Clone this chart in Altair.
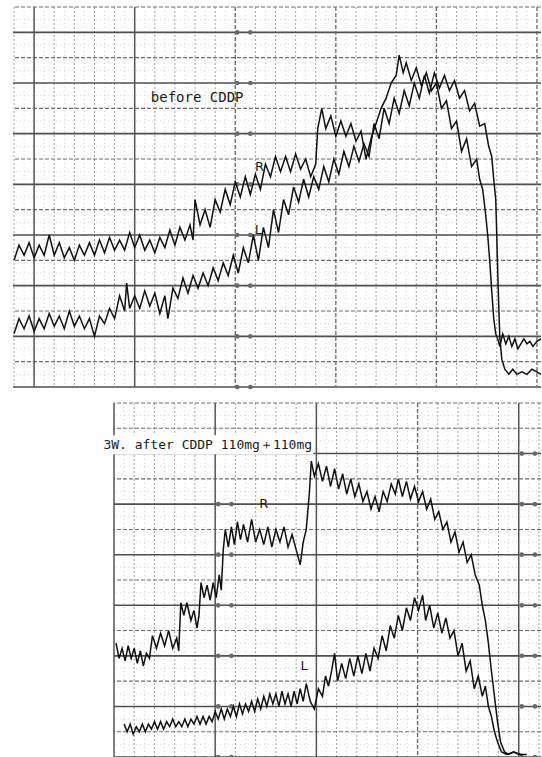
import altair as alt
import pandas as pd

# ---------------- data (x in octaves from first major line, y in dB) ----------------
top_R_oct = [-0.20,-0.15,-0.10,-0.05,0.00,0.05,0.10,0.15,0.20,0.25,0.30,0.35,0.40,0.45,0.50,0.55,0.60,0.65,0.70,0.75,0.80,0.85,0.90,0.95,1.00,1.05,1.10,1.15,1.20,1.25,1.30,1.35,1.40,1.45,1.50,1.55,
             1.58,1.60,
             1.65,1.70,1.75,1.80,1.85,1.90,1.95,2.00,2.05,2.10,2.15,2.20,2.25,2.30,2.35,2.40,2.45,2.50,2.55,2.60,2.65,2.70,2.75,2.80,
             2.82,2.86,
             2.90,2.95,3.00,3.05,3.10,3.15,3.20,3.25,3.30,3.35,3.40,3.45,3.50,3.55,3.60,
             3.63,3.67,
             3.70,3.75,3.80,3.85,3.90,3.95,4.00,4.05,4.10,4.15,4.20,4.25,4.30,4.35,4.40,
             4.43,4.46,4.49,4.51,4.53,4.55,4.57,4.59,4.61,4.63,
             4.66,4.69,4.72,4.75,4.78,4.81,4.84,4.87,4.90,4.93,4.96,5.00,5.04]
top_R_db = [90,84,88,83,89,84,88,80,88,83,89,85,90,84,88,83,88,82,87,81,86,82,86,79,85,80,86,82,87,81,85,78,84,77,82,76,
            82,66,
            76,70,77,66,71,62,68,59,65,57,64,56,62,52,57,49,55,49,55,48,54,50,57,52,
            38,30,
            38,33,41,35,41,36,43,39,50,42,36,30,26,20,17,
            9,16,
            12,19,14,21,16,23,20,30,27,38,35,47,42,53,50,
            58,62,72,80,90,102,113,119,121,124,
            119,123,120,124,121,125,123,121,123,122,124,122,121]

top_L_oct = [-0.20,-0.15,-0.10,-0.05,0.00,0.05,0.10,0.15,0.20,0.25,0.30,0.35,0.40,0.45,0.50,0.55,0.60,0.65,0.70,0.75,0.80,0.85,0.90,
             0.92,
             0.95,1.00,1.05,1.10,1.15,1.20,1.25,1.30,
             1.33,
             1.38,1.43,1.48,1.53,1.58,1.63,1.68,1.73,1.78,1.83,1.88,1.93,1.98,2.03,2.08,2.13,2.18,2.23,2.28,2.33,2.38,2.43,2.48,2.53,2.58,2.63,
             2.68,2.73,2.78,2.83,2.88,2.93,2.98,3.03,3.08,3.13,3.18,3.23,3.28,3.33,3.38,3.43,3.48,3.53,3.58,3.63,3.68,3.73,3.78,3.83,3.88,3.93,
             3.98,4.03,4.08,4.13,4.18,4.23,4.28,4.33,4.38,4.43,4.48,
             4.52,4.55,4.57,4.59,4.60,4.61,4.62,4.63,4.65,4.68,4.72,4.76,4.80,4.85,4.90,4.95,5.00,5.04]
top_L_db = [119,113,117,112,118,113,117,111,116,112,117,110,116,112,117,113,120,112,115,109,113,104,110,
            99,
            109,104,109,102,108,103,111,104,
            113,
            101,105,97,103,96,101,95,100,93,98,91,96,88,95,85,91,80,90,77,85,70,79,66,72,61,67,
            58,65,57,62,53,59,50,56,47,53,45,51,44,49,36,42,30,36,26,32,23,29,20,26,17,24,
            16,22,17,23,19,26,23,31,28,37,36,
            45,49,58,66,80,95,108,120,129,133,135,133,135,134,135,133,134,135]

bot_R_oct = [0.02,0.05,0.08,0.11,0.14,0.17,0.20,0.23,0.26,0.29,0.32,0.35,
             0.38,0.42,0.46,0.50,0.54,0.58,0.62,
             0.64,0.66,0.69,0.72,0.76,0.79,0.82,0.84,0.86,0.89,0.92,0.95,0.98,1.01,1.04,1.06,1.08,1.10,1.13,1.16,1.19,1.22,1.25,1.28,
             1.32,1.36,1.40,1.44,1.48,1.52,1.56,1.60,1.64,1.68,1.72,1.76,1.80,1.84,
             1.87,1.90,1.93,1.95,1.98,
             2.02,2.06,2.10,2.14,2.18,2.22,2.26,2.30,2.34,2.38,2.42,2.46,2.50,2.54,2.58,2.62,2.66,2.70,2.74,2.78,
             2.81,
             2.85,2.89,2.93,2.97,3.01,3.05,3.09,3.13,3.17,3.21,3.25,3.29,3.33,3.37,3.41,3.45,3.49,3.53,3.57,
             3.61,3.64,3.67,3.70,3.73,3.76,3.79,3.82,3.86,3.90,3.95,4.00,4.04]
bot_R_db = [95,101,97,102,96,101,97,103,98,104,99,101,
            92,97,91,96,90,97,93,
            98,79,84,79,86,82,89,84,71,77,72,78,71,77,68,74,58,50,57,49,56,47,54,48,
            55,46,55,50,56,49,57,50,55,49,57,52,58,64,
            55,50,36,23,29,
            24,31,25,33,26,34,28,36,30,37,32,39,35,42,37,43,35,39,32,36,
            30,
            37,31,38,33,39,35,42,38,46,43,50,47,55,51,59,55,63,60,68,
            72,80,86,95,106,116,126,134,138,139,138,139,139]

bot_L_oct = [0.10,0.13,0.16,0.19,0.22,0.25,0.28,0.31,0.34,0.37,0.40,0.43,0.46,0.49,0.52,0.55,0.58,0.61,0.64,0.67,
             0.70,0.73,0.76,0.79,0.82,0.85,0.88,0.91,0.94,0.97,1.00,1.03,1.06,1.09,1.12,1.15,1.18,1.21,1.24,1.27,
             1.30,1.33,1.36,1.39,1.42,1.45,1.48,1.51,1.54,1.57,1.60,1.63,1.66,1.69,1.72,1.75,1.78,1.81,1.84,1.87,
             1.90,1.94,1.98,2.02,2.06,2.09,2.12,2.15,2.18,2.21,2.25,2.29,2.33,2.37,2.41,2.45,2.49,2.53,2.57,2.61,
             2.65,2.69,2.73,2.77,2.81,2.85,2.89,2.93,2.97,3.01,3.05,3.08,3.12,3.16,3.20,3.24,3.28,3.32,3.36,3.40,
             3.44,3.48,3.52,3.56,3.60,3.64,3.67,3.70,3.73,3.76,3.79,3.83,3.88,3.95,4.02,4.08]
bot_L_db = [127,130,127,131,128,130,127,130,127,129,126,129,126,129,126,128,125,128,126,128,
            125,128,125,127,124,127,124,127,124,126,122,125,121,125,121,124,120,124,119,123,
            119,122,118,122,117,121,116,120,115,119,115,120,114,119,115,120,114,119,113,118,
            111,118,121,113,116,108,112,106,99,110,103,109,101,108,100,107,99,106,97,101,
            92,98,88,93,84,90,81,86,77,82,76,86,80,89,83,91,85,93,90,100,
            95,106,102,113,108,116,112,120,124,130,134,138,139,138,139,139]

# grid levels (dB) and frequency lines (octaves)
top_db_solid = [0, 20, 40, 60, 80, 100, 120, 140]
top_db_dash = [-10, 10, 30, 50, 70, 90, 110, 130]
top_oct_solid = [0, 1]
top_oct_dash = [2, 3, 4, 5]
bot_db_solid = [20, 40, 60, 80, 100, 120, 140]
bot_db_dash = [0, 10, 30, 50, 70, 90, 110, 130]
bot_oct_solid = [0, 1, 2, 4]
bot_oct_dash = [3]

top_marker_oct = [2.02, 2.15]
top_marker_db = [0, 20, 40, 60, 80, 100, 120, 140]
bot_marker_left_oct = [1.03, 1.16]
bot_marker_left_db = [40, 60, 80, 100, 120, 140]
bot_marker_right_oct = [4.03, 4.16]
bot_marker_right_db = [20, 40, 60, 80, 100, 120, 140]

top_title = "before CDDP"
bot_title = "3W. after CDDP 110mg\uff0b110mg"
labels_top = [("R", 2.24, 53), ("L", 2.23, 78)]
labels_bot = [("R", 1.48, 40), ("L", 1.88, 104)]

# ---------------- helpers ----------------
def trace_df(xs, ys, name):
    rows = [{"oct": x, "db": y, "trace": name, "i": k} for k, (x, y) in enumerate(zip(xs, ys))]
    return pd.DataFrame(rows)

def minor_lines(lo, hi, step_tenths, skip_every):
    vals = []
    for k in range(int(round(lo * 10)), int(round(hi * 10)) + 1):
        if k % step_tenths == 0 and k % skip_every != 0:
            vals.append(k / 10)
    return vals

def panel(xdom, ydom, w, h, db_solid, db_dash, oct_solid, oct_dash, traces,
          markers, labels, title_layers):
    xs = alt.Scale(domain=xdom, nice=False, zero=False)
    ys = alt.Scale(domain=ydom, reverse=True, nice=False, zero=False)
    X = lambda f: alt.X(f, type="quantitative", scale=xs, axis=None)
    Y = lambda f: alt.Y(f, type="quantitative", scale=ys, axis=None)

    fine = pd.DataFrame({"oct": minor_lines(xdom[0], xdom[1], 1, 2)})
    minor = pd.DataFrame({"oct": minor_lines(xdom[0], xdom[1], 2, 10)})
    half_db = pd.DataFrame({"db": [v + 5 for v in range(int(ydom[0]), int(ydom[1]), 10)]})

    layers = [
        alt.Chart(half_db).mark_rule(color="#cccccc", strokeWidth=0.8, strokeDash=[1, 3]).encode(y=Y("db")),
        alt.Chart(fine).mark_rule(color="#c4c4c4", strokeWidth=0.8, strokeDash=[1, 3]).encode(x=X("oct")),
        alt.Chart(minor).mark_rule(color="#999999", strokeWidth=0.9, strokeDash=[2, 2]).encode(x=X("oct")),
        alt.Chart(pd.DataFrame({"db": db_dash})).mark_rule(color="#6e6e6e", strokeWidth=1.1, strokeDash=[4, 2]).encode(y=Y("db")),
        alt.Chart(pd.DataFrame({"db": db_solid})).mark_rule(color="#4f4f4f", strokeWidth=1.6).encode(y=Y("db")),
        alt.Chart(pd.DataFrame({"oct": oct_dash})).mark_rule(color="#666666", strokeWidth=1.3, strokeDash=[4, 2]).encode(x=X("oct")),
        alt.Chart(pd.DataFrame({"oct": oct_solid})).mark_rule(color="#555555", strokeWidth=1.5).encode(x=X("oct")),
    ]
    mk = pd.DataFrame([{"oct": o, "db": d} for (ol, dl) in markers for o in ol for d in dl])
    layers.append(alt.Chart(mk).mark_point(shape="circle", size=22, filled=True, color="#6a6a6a", opacity=1)
                  .encode(x=X("oct"), y=Y("db")))
    tdf = pd.concat(traces, ignore_index=True)
    layers.append(alt.Chart(tdf).mark_line(color="#111111", strokeWidth=1.5, clip=True, strokeJoin="miter")
                  .encode(x=X("oct"), y=Y("db"), detail="trace:N", order="i:Q"))
    for lay in title_layers:
        layers.append(lay(X, Y))
    ldf = pd.DataFrame([{"t": t, "oct": o, "db": d} for (t, o, d) in labels])
    layers.append(alt.Chart(ldf).mark_text(font="DejaVu Sans", fontSize=13, color="#1a1a1a", baseline="middle", align="center")
                  .encode(x=X("oct"), y=Y("db"), text="t:N"))
    return alt.layer(*layers).properties(width=w, height=h)


def top_title_layer(X, Y):
    return alt.Chart(pd.DataFrame({"t": [top_title], "oct": [1.16], "db": [26]})).mark_text(
        font="DejaVu Sans Mono", fontSize=14, color="#1a1a1a", align="left", baseline="middle"
    ).encode(x=X("oct"), y=Y("db"), text="t:N")


def bot_title_bg(X, Y):
    return alt.Chart(pd.DataFrame({"a": [-0.12], "b": [1.97], "c": [12.8], "d": [20.3]})).mark_rect(
        color="white"
    ).encode(x=X("a"), x2="b", y=Y("c"), y2="d")


def bot_title_layer(X, Y):
    return alt.Chart(pd.DataFrame({"t": [bot_title], "oct": [-0.105], "db": [16.6]})).mark_text(
        font="DejaVu Sans Mono", fontSize=13, color="#1a1a1a", align="left", baseline="middle"
    ).encode(x=X("oct"), y=Y("db"), text="t:N")


top = panel([-0.21, 5.04], [-10, 140], 528, 380,
            top_db_solid, top_db_dash, top_oct_solid, top_oct_dash,
            [trace_df(top_R_oct, top_R_db, "R"), trace_df(top_L_oct, top_L_db, "L")],
            [(top_marker_oct, top_marker_db)], labels_top, [top_title_layer])

bottom = panel([0, 4.22], [0, 140], 427, 354,
               bot_db_solid, bot_db_dash, bot_oct_solid, bot_oct_dash,
               [trace_df(bot_R_oct, bot_R_db, "R"), trace_df(bot_L_oct, bot_L_db, "L")],
               [(bot_marker_left_oct, bot_marker_left_db), (bot_marker_right_oct, bot_marker_right_db)],
               labels_bot, [bot_title_bg, bot_title_layer])

spacer = alt.Chart(pd.DataFrame({"a": [0]})).mark_point(opacity=0).encode(
    x=alt.X("a:Q", axis=None), y=alt.Y("a:Q", axis=None)
).properties(width=101, height=354)

row2 = alt.hconcat(spacer, bottom, spacing=0, bounds="flush")
chart = alt.vconcat(top, row2, spacing=16, bounds="flush").properties(
    padding={"left": 12, "top": 6, "right": 0, "bottom": 0},
    background="white",
).configure_view(stroke=None)

chart.save("out.html", embed_options={"renderer": "svg", "actions": False})
